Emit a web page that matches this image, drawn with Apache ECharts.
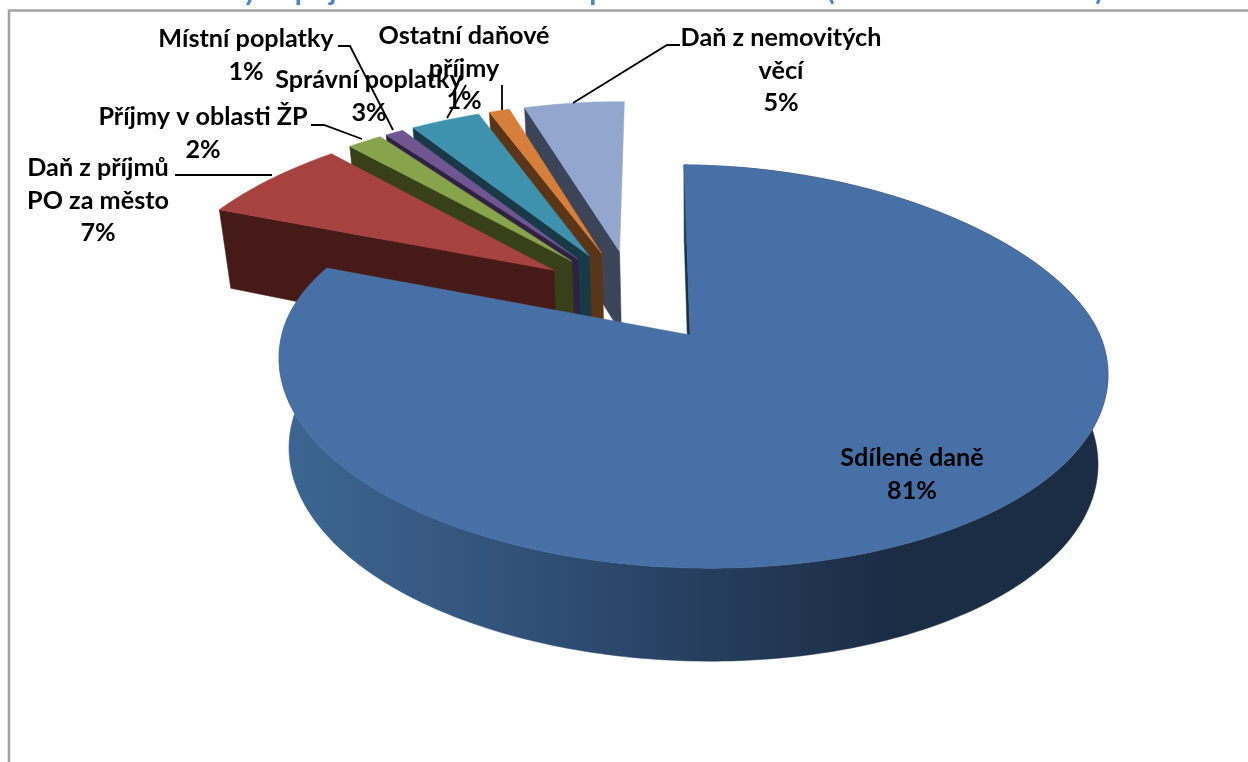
<!DOCTYPE html>
<html><head><meta charset="utf-8">
<style>html,body{margin:0;padding:0;background:#fff}#c{width:1248px;height:762px}</style>
<script src="https://cdn.jsdelivr.net/npm/echarts@6/dist/echarts.min.js"></script>
</head><body><div id="c"></div>
<script>
const categories = ['Sdílené daně','Daň z příjmů PO za město','Příjmy v oblasti ŽP','Místní poplatky','Správní poplatky','Ostatní daňové příjmy','Daň z nemovitých věcí'];
const values = [80.6,7.1,1.7,0.9,3.49,1.05,5.16];
const labelLines = [['Sdílené daně'],['Daň z příjmů','PO za město'],['Příjmy v oblasti ŽP'],['Místní poplatky'],['Správní poplatky'],['Ostatní daňové','příjmy'],['Daň z nemovitých','věcí']];
const topColors = ['#4670A6','#A64340','#87A34C','#6F5592','#3F92AD','#D57F3A','#93A6CE'];
const wallColors = ['#1B2D45','#451A18','#374018','#2E2240','#183A48','#5A3518','#3C4558'];
const titleText = 'Struktura daňových příjmů města celkem – podíl na celkovém (skutečnost 31.12.12)';

// label placement: centre x, first-line y, leader polyline
const labelLayout = [
  {x:912,y:458,leader:null},
  {x:98,y:168,leader:[[175,175],[272,175]]},
  {x:203,y:117,leader:[[311,125],[324,125],[362,139]]},
  {x:246,y:39,leader:[[338,46],[350,46],[393,130]]},
  {x:369,y:80,leader:[[447,118],[466,85]]},
  {x:464,y:36,leader:[[502,85],[502,110]]},
  {x:781,y:38,leader:[[680,45],[667,45],[573,103]]}
];

// projection of the pie plane (perspective camera)
const CX=693.5, AY=335, A=409.4, B=196.6, P=0.1563, K_BACK=0.117, EXPLODE=0.25, ROT=-1.6, TILT=0.02, BLUE_APEX_DX=-3.5;
const BOTTOM_SCALE=0.976;
const depth=v=>Math.max(77,89+(v<0?16:4)*v);
const widthW=v=>1-P*v+(v<0?K_BACK*v*v/(1-v):0);
const project=(u,v)=>{const x=A*u/widthW(v);return [CX+x, AY+B*v/(1-P*v)+TILT*x];};
const projectBottom=(u,v)=>{const t=project(u,v);return [CX+(t[0]-CX)*BOTTOM_SCALE, t[1]+depth(v)];};
const dir=d=>{const r=d*Math.PI/180;return [Math.sin(r),-Math.cos(r)];};
const total=values.reduce((a,b)=>a+b,0);
const spans=[];let acc=ROT;
values.forEach(v=>{const a=v/total*360;spans.push([acc,acc+a]);acc+=a;});
const bb=dir((spans[0][0]+spans[0][1])/2);
const C=[-EXPLODE*bb[0],-EXPLODE*bb[1]];
const drawRank=[6,5,4,3,2,1,0].reduce((m,i,r)=>{m[i]=r;return m;},{});

function renderSlice(params,api){
  const i=params.dataIndex, base=(drawRank[i]+1)*10;
  const [a0,a1]=spans[i];
  const d=dir((a0+a1)/2);
  const ox=C[0]+EXPLODE*d[0], oy=C[1]+EXPLODE*d[1];
  const rim=[];
  for(let a=a0;;a+=1){const t=Math.min(a,a1);const e=dir(t);rim.push([ox+e[0],oy+e[1]]);if(t>=a1)break;}
  const topRim=rim.map(p=>project(p[0],p[1]));
  const botRim=rim.map(p=>projectBottom(p[0],p[1]));
  const apexT=project(ox,oy), apexB=projectBottom(ox,oy);
  if(i===0){apexT[0]+=BLUE_APEX_DX;apexB[0]+=BLUE_APEX_DX;}
  const wall=wallColors[i];
  const poly=(pts,fill,z)=>({type:'polygon',shape:{points:pts},style:{fill,stroke:fill,lineWidth:0.5},z2:base+z,silent:true});
  const children=[poly([apexT,topRim[0],botRim[0],apexB],wall,1)];
  if(i===0){
    const sideFill=new echarts.graphic.LinearGradient(280,0,1100,0,[
      {offset:0,color:'#3B6793'},{offset:0.15,color:'#385B85'},{offset:0.33,color:'#2F4E75'},
      {offset:0.5,color:'#273F60'},{offset:0.65,color:'#20344F'},{offset:0.75,color:'#1B2D45'},{offset:1,color:'#1B2D45'}],true);
    children.push(poly(topRim.concat(botRim.slice().reverse()),sideFill,2));
  }
  children.push(poly([apexT].concat(topRim),topColors[i],3));
  const l=labelLayout[i];
  if(l.leader) children.push({type:'polyline',shape:{points:l.leader},style:{stroke:'#000',lineWidth:1.8,fill:null},z2:200,silent:true});
  const lines=labelLines[i].concat([Math.round(api.value(1))+'%']);
  lines.forEach((s,k)=>children.push({type:'text',z2:210,silent:true,style:{text:s,x:l.x,y:l.y+k*32.5,align:'center',verticalAlign:'middle',fill:'#000',font:'bold 25.2px Lato'}}));
  return {type:'group',children};
}

const chart=echarts.init(document.getElementById('c'),null,{renderer:'canvas'});
chart.setOption({
  animation:false,backgroundColor:'#fff',
  title:{text:titleText,left:32,top:-29,textStyle:{color:'#4F81BD',fontFamily:'Lato',fontWeight:'bold',fontSize:28.8}},
  graphic:[{type:'rect',z:-1,shape:{x:9,y:10.5,width:1400,height:900},style:{fill:'#fff',stroke:'#A3A3A3',lineWidth:2.5},silent:true}],
  series:[{type:'custom',coordinateSystem:'none',renderItem:renderSlice,clip:false,
    data:categories.map((n,i)=>({name:n,value:[i,values[i]]}))}]
});
</script></body></html>
